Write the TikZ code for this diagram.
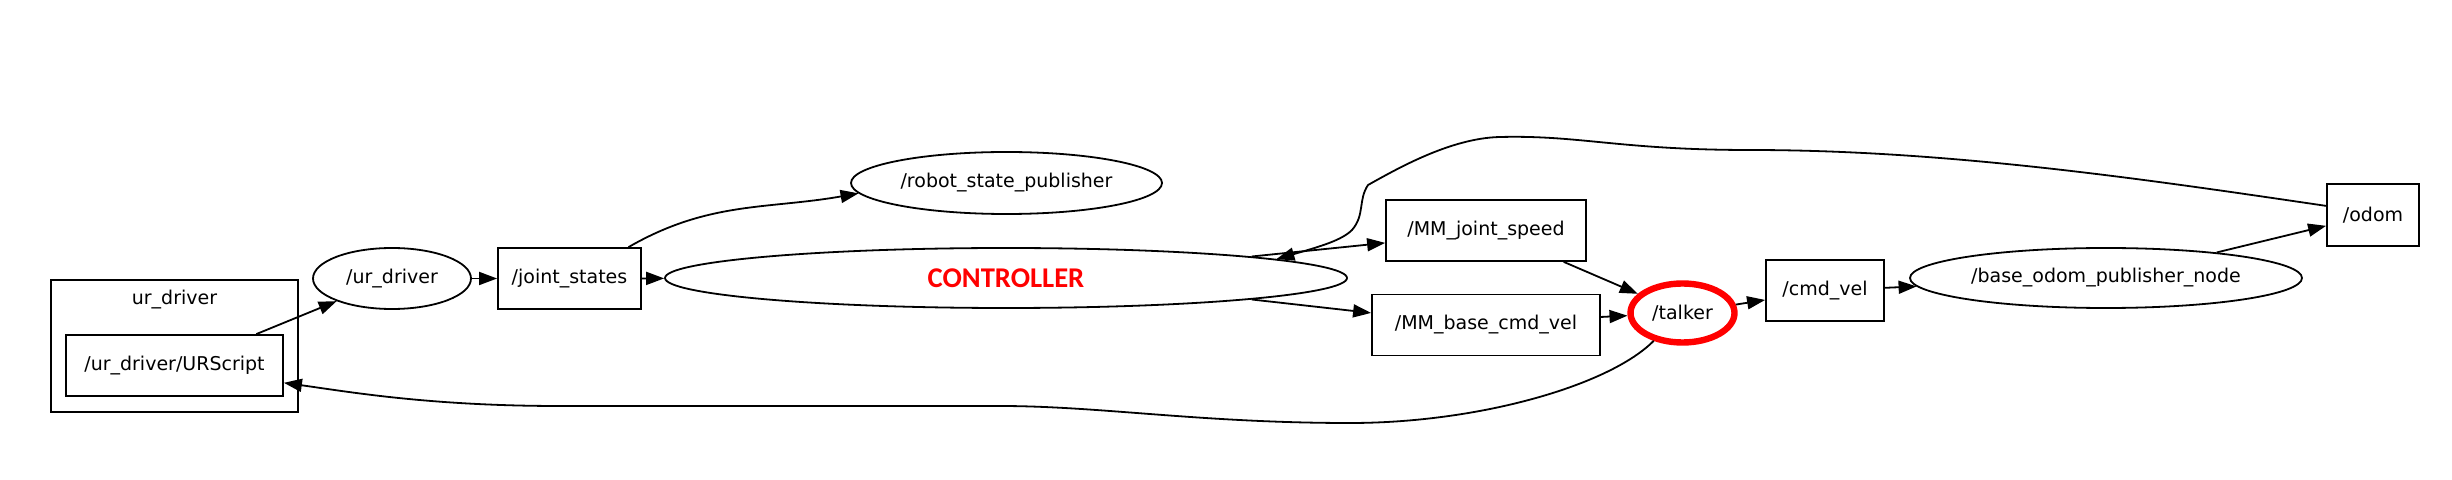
\documentclass[tikz,border=0pt]{standalone}
\usepackage{fontspec}
\setmainfont{DejaVu Sans}
\newfontfamily\ctrlfont{Carlito}
\usepackage{tikz}
\usetikzlibrary{positioning,shapes.geometric,arrows.meta}

\begin{document}
\begin{tikzpicture}[
  x=0.5pt,y=-0.5pt,
  every node/.style={font=\fontsize{9.5}{11}\selectfont,inner sep=0pt},
  topic/.style={rectangle,draw,line width=0.9pt,minimum height=30.5pt},
  rnode/.style={ellipse,draw,line width=0.9pt,minimum height=30.5pt},
  grpbox/.style={rectangle,draw,line width=0.9pt},
  arr/.style={-{Triangle[length=9pt,width=6.5pt]},line width=0.9pt},
]
\path[use as bounding box,fill=white] (0,0) rectangle (2452,480);

\node[grpbox,minimum width=123.5pt,minimum height=66pt] (grp) at (174.5,346) {};
\node (grplabel) at (174.5,300) {ur\_driver};
\node[topic,minimum width=108.5pt] (urscript) at (174.5,365.5) {/ur\_driver/URScript};
\node[rnode,minimum width=79pt] (urdriver) at (392,278.5) {/ur\_driver};
\node[topic,minimum width=71.5pt] (jstates) at (569.5,278.5) {/joint\_states};
\node[rnode,minimum width=155.5pt,minimum height=31pt] (rsp) at (1006.5,183) {/robot\_state\_publisher};
\node[rnode,minimum width=341pt,minimum height=30pt,
      font=\ctrlfont\bfseries\fontsize{14.3}{16}\selectfont,text=red] (ctrl) at (1006,278) {CONTROLLER};
\node[topic,minimum width=100pt] (mmjoint) at (1486,230.5) {/MM\_joint\_speed};
\node[topic,minimum width=114pt] (mmbase) at (1486,325) {/MM\_base\_cmd\_vel};
\node[rnode,draw=red,line width=3.2pt,minimum width=52pt,minimum height=29.5pt] (talker) at (1682.5,313) {/talker};
\node[topic,minimum width=59pt] (cmdvel) at (1825,290.5) {/cmd\_vel};
\node[rnode,minimum width=196pt,minimum height=30pt] (bodom) at (2106,278) {/base\_odom\_publisher\_node};
\node[topic,minimum width=46pt,minimum height=31pt] (odom) at (2373,215) {/odom};

\draw[arr] (urscript.21) -- (urdriver);
\draw[arr] (urdriver) -- (jstates);
\draw[arr] (jstates) -- (ctrl);
\draw[arr] (jstates.28) to[out=30,in=190] (rsp.184);
\draw[arr] (ctrl.5) -- (mmjoint.187);
\draw[arr] (ctrl.-5) -- (mmbase.174);
\draw[arr] (mmjoint.338) -- (talker);
\draw[arr] (mmbase.4) -- (talker);
\draw[arr] (talker) -- (cmdvel);
\draw[arr] (cmdvel) -- (bodom);
\draw[arr] (bodom.13) -- (odom.193);
\draw[arr] (odom.169) .. controls (2150,180) and (1950,150) .. (1750,150)
  .. controls (1620,150) and (1580,135) .. (1500,137)
  .. controls (1450,138) and (1395,170) .. (1368,185)
  .. controls (1358,200) and (1365,215) .. (1352,230)
  .. controls (1342,240) and (1322,246) .. (ctrl.4);
\draw[arr] (talker.224) .. controls (1610,385) and (1480,423) .. (1350,423)
  .. controls (1200,423) and (1100,406) .. (1000,406) -- (560,406)
  .. controls (430,406) and (350,392) .. (urscript.351);
\end{tikzpicture}
\end{document}
